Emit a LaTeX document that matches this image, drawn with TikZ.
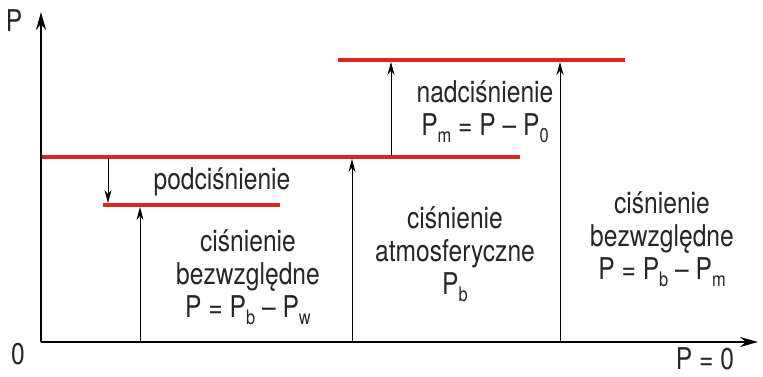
\documentclass[tikz,border=0pt]{standalone}
\usepackage{fontspec}
\setmainfont{TeX Gyre Heros}[FakeStretch=0.82]
\usetikzlibrary{arrows.meta}
\newcommand\lowsub[1]{\raisebox{-0.45ex}{\fontsize{20}{20}\selectfont #1}}
\definecolor{redline}{RGB}{225,35,30}
\tikzset{
  axis/.style={line width=1.8pt,-{Stealth[length=18pt,width=10pt]}},
  level/.style={redline,line width=3.5pt},
  uparrow/.style={line width=0.9pt,-{Stealth[length=13pt,width=7pt]}},
  lbl/.style={font=\fontsize{30}{33}\selectfont,align=center,inner sep=0pt,text=black!85}
}
\begin{document}
\begin{tikzpicture}[x=1pt,y=-1pt]
\useasboundingbox (0,0) rectangle (763,377);
% axes
\coordinate (o) at (41,342);
\coordinate (ytop) at (41,12);
\coordinate (xend) at (758,342);
\draw[axis] (o) -- (ytop);
\draw[axis] (o) -- (xend);
\node[lbl] (Plab) at (14,21) {P};
\node[lbl] (zero) at (18,354) {0};
\node[lbl] (P0) at (705,359) {P = 0};
% red levels
\coordinate (topL) at (338,60);  \coordinate (topR) at (625,60);
\coordinate (midL) at (42,157);  \coordinate (midR) at (520,157);
\coordinate (lowL) at (103,205); \coordinate (lowR) at (280,205);
\draw[level] (topL) -- (topR);
\draw[level] (midL) -- (midR);
\draw[level] (lowL) -- (lowR);
% arrows
\coordinate (a1s) at (108,158); \coordinate (a1e) at (108,203);
\draw[uparrow] (a1s) -- (a1e);
\coordinate (a2s) at (140,342); \coordinate (a2e) at (140,207);
\draw[uparrow] (a2s) -- (a2e);
\coordinate (a3s) at (352,342); \coordinate (a3e) at (352,159);
\draw[uparrow] (a3s) -- (a3e);
\coordinate (a4s) at (391,156); \coordinate (a4e) at (391,62);
\draw[uparrow] (a4s) -- (a4e);
\coordinate (a5s) at (560,342); \coordinate (a5e) at (560,62);
\draw[uparrow] (a5s) -- (a5e);
% labels
\node[lbl] (podc) at (222,182) {podciśnienie};
\node[lbl] (bezw1) at (248,277) {ciśnienie\\bezwzględne\\P = P\lowsub{b} – P\lowsub{w}};
\node[lbl] (atm) at (455,254) {ciśnienie\\atmosferyczne\\P\lowsub{b}};
\node[lbl] (nadc) at (485,112) {nadciśnienie\\P\lowsub{m} = P – P\lowsub{0}};
\node[lbl] (bezw2) at (662,239) {ciśnienie\\bezwzględne\\P = P\lowsub{b} – P\lowsub{m}};
\end{tikzpicture}
\end{document}
